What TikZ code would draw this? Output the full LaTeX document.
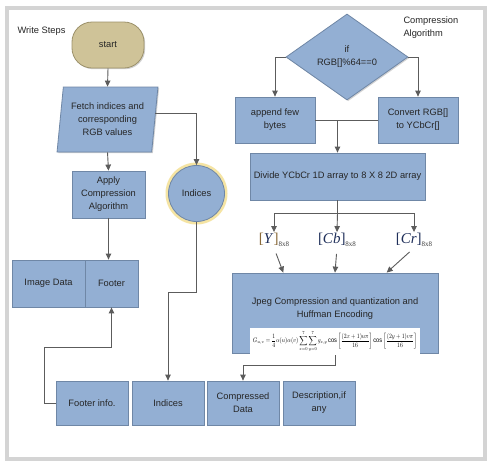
\documentclass[tikz,border=0pt]{standalone}
\usepackage{fontspec}
\setmainfont{Liberation Sans}
\newfontfamily\serifff{Liberation Serif}
\usepackage{graphicx}
\usetikzlibrary{arrows.meta,shapes.geometric,shadows,calc}
\definecolor{boxblue}{HTML}{93AFD3}
\definecolor{boxedge}{HTML}{6F87A6}
\definecolor{startfill}{HTML}{CFC398}
\definecolor{startedge}{HTML}{9C916A}
\definecolor{linegrey}{HTML}{5C5C5C}
\definecolor{framegrey}{HTML}{D4D4D4}
\definecolor{glowcol}{HTML}{F3DE8C}
\definecolor{bracketbrown}{HTML}{8A6A3A}
\definecolor{navyc}{HTML}{1F2F5A}
\tikzset{
 txt/.style={font=\fontsize{9.3}{13}\selectfont, align=center, text=black!85},
 shadowed/.style={drop shadow={shadow xshift=1.2pt, shadow yshift=-1.2pt, opacity=0.35}},
 blockbox/.style={txt, rectangle, draw=boxedge, fill=boxblue, line width=0.8pt, inner sep=1pt, shadowed},
 conn/.style={draw=linegrey, line width=0.9pt},
 arr/.style={conn, -{Triangle[width=5.5pt,length=6pt]}},
 lbl/.style={font=\serifff\fontsize{15}{15}\selectfont, text=navyc, inner sep=1pt},
}
\newcommand{\subsz}[1]{\raisebox{-3pt}{\fontsize{7}{7}\selectfont\color{black!75}#1}}
\begin{document}
\begin{tikzpicture}[x=1pt,y=-1pt]
\useasboundingbox (0,0) rectangle (491,472);
\fill[white] (0,0) rectangle (491,472);
\draw[framegrey, line width=4pt] (6.5,8) rectangle (484.5,459);

% titles
\node[txt, anchor=west] (wtitle) at (14,31) {Write Steps};
\node[txt, anchor=north west, align=left] (ctitle) at (400,13) {Compression\\Algorithm};

% left column
\node[txt, rectangle, rounded corners=20pt, draw=startedge, fill=startfill, line width=0.8pt,
      minimum width=72pt, minimum height=46pt, shadowed] (start) at (108,45) {start};
\node[txt, trapezium, trapezium left angle=81, trapezium right angle=99, trapezium stretches=true,
      draw=boxedge, fill=boxblue, line width=0.8pt, inner sep=0pt,
      minimum width=101pt, minimum height=65pt, shadowed] (fetch) at (107.5,119.5)
      {Fetch indices and\\corresponding\\RGB values};
\node[blockbox, minimum width=73pt, minimum height=47pt] (apply) at (108.5,194.5) {Apply\\Compression\\Algorithm};
\fill[glowcol, opacity=0.8] (196.5,193.5) circle[radius=31pt];
\node[txt, circle, draw=boxedge, fill=boxblue, line width=0.8pt, minimum size=56pt, inner sep=0pt] (indc) at (196.5,193.5) {Indices};

\node[blockbox, minimum width=73pt, minimum height=47pt] (imgdata) at (48.5,283.5) {Image Data};
\node[blockbox, minimum width=53pt, minimum height=47pt] (footer) at (111.5,283.5) {Footer};

\node[blockbox, minimum width=72pt, minimum height=44pt] (finfo) at (92,403) {Footer info.};
\node[blockbox, minimum width=72pt, minimum height=44pt] (indb) at (168,403) {Indices};
\node[blockbox, minimum width=72pt, minimum height=44pt] (compd) at (243,403) {Compressed\\Data};
\node[blockbox, minimum width=72pt, minimum height=44pt] (desc) at (319,403) {Description,if\\any};

% right column
\node[txt, diamond, draw=boxedge, fill=boxblue, line width=0.8pt, inner sep=0pt, shape aspect=1.4,
      minimum width=122pt, minimum height=86pt, shadowed] (dec) at (347,57) {if\\RGB[]\%64==0};
\node[blockbox, minimum width=80pt, minimum height=46pt] (append) at (275,120) {append few\\bytes};
\node[blockbox, minimum width=80pt, minimum height=46pt] (convert) at (418,120) {Convert RGB[]\\to YCbCr[]};
\node[blockbox, minimum width=175pt, minimum height=47pt] (divide) at (337.5,176.5) {Divide YCbCr 1D array to 8 X 8 2D array};

\node[lbl] (ylab) at (274,240) {\textcolor{bracketbrown}{[}\textit{Y}\textcolor{bracketbrown}{]}\subsz{8x8}};
\node[lbl] (cblab) at (337,240) {[\textit{Cb}]\subsz{8x8}};
\node[lbl] (crlab) at (414,240) {[\textit{Cr}]\subsz{8x8}};

\node[blockbox, minimum width=206pt, minimum height=80pt] (jpeg) at (335,313) {};
\node[txt, inner sep=0pt] (jpegtxt) at (335,309) {Jpeg Compression and quantization and\\Huffman Encoding};
\node[fill=white, inner sep=0pt, minimum width=170pt, minimum height=27pt] (formula) at (335,341.5)
 {\resizebox*{164pt}{21pt}{$\displaystyle G_{u,v}=\frac{1}{4}\alpha(u)\alpha(v)\sum_{x=0}^{7}\sum_{y=0}^{7} g_{x,y}\cos\left[\frac{(2x+1)u\pi}{16}\right]\cos\left[\frac{(2y+1)v\pi}{16}\right]$}};

% connectors left
\draw[arr] (start.south) -- (fetch.north);
\draw[arr] (fetch.south) -- (apply.north);
\coordinate (fr) at ([yshift=6pt]fetch.east);
\draw[arr] (fr) -| (indc.north);
\draw[arr] (apply.south) -- (apply.south |- footer.north);
\coordinate (c1) at (168,292);
\draw[arr] (indc.south) |- (c1) -- (indb.north);
\coordinate (c2) at (44,347);
\draw[arr] (finfo.west) -| (c2) -| (footer.south);

% connectors right
\draw[arr] (dec.west) -| (append.north);
\draw[arr] (dec.east) -| (convert.north);
\draw[conn] (append.east) -- (convert.west);
\coordinate (m) at (append.east -| divide.north);
\draw[arr] (m) -- (divide.north);
\coordinate (b) at (337.5,213);
\draw[conn] (divide.south) -- (b);
\draw[conn] (ylab.north |- b) -- (crlab.north |- b);
\draw[arr] (ylab.north |- b) -- (ylab.north);
\draw[arr] (b) -- (cblab.north);
\draw[arr] (crlab.north |- b) -- (crlab.north);
\draw[arr, shorten <=6pt] (ylab.south) -- ($(jpeg.north west)!0.25!(jpeg.north east)$);
\draw[arr, shorten <=6pt] (cblab.south) -- ($(jpeg.north west)!0.5!(jpeg.north east)$);
\draw[arr, shorten <=6pt] (crlab.south) -- ($(jpeg.north west)!0.75!(jpeg.north east)$);
\coordinate (c3) at (243,365);
\draw[arr] (formula.south) |- (c3) -- (compd.north);
\end{tikzpicture}
\end{document}
